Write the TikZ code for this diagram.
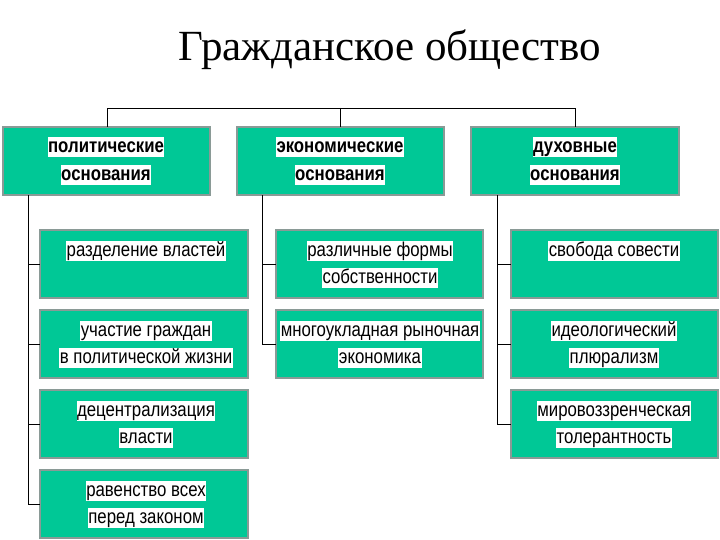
\documentclass[tikz,border=0pt]{standalone}
\usepackage{fontspec}
\setmainfont{Liberation Sans}
\newfontfamily\titlefont{Liberation Serif}
\definecolor{tealbox}{HTML}{00C896}
\definecolor{edge}{HTML}{8A9A96}
\newcommand{\nar}[1]{\scalebox{0.84}[1]{#1}}
\begin{document}
\begin{tikzpicture}[x=1pt,y=-1pt,
  box/.style={draw=edge,line width=1.5pt,fill=tealbox},
  hl/.style={fill=white,inner xsep=0.5pt,inner ysep=0.3pt,text height=14.5pt,text depth=4pt,font=\fontsize{20}{21}\selectfont},
  hlb/.style={hl,font=\fontsize{20}{21}\selectfont\bfseries},
  ln/.style={line width=0.8pt,black}]
\useasboundingbox (0,0) rectangle (720,540);
\node[font=\titlefont\fontsize{43}{45}\selectfont] (title) at (390,50) {Гражданское общество};
% header boxes
\draw[box] (3,127) rectangle (210,195);
\draw[box] (237,127) rectangle (444,195);
\draw[box] (471,127) rectangle (679,195);
\coordinate (t1) at (107,108); \coordinate (t2) at (340,108); \coordinate (t3) at (575,108);
\coordinate (b1) at (107,127); \coordinate (b2) at (340,127); \coordinate (b3) at (575,127);
\draw[ln] (b1)--(t1)--(t3)--(b3) (t2)--(b2);
\node[hlb] (p1) at (106,147) {\nar{политические}};
\node[hlb] (p2) at (106,175) {\nar{основания}};
\node[hlb] (e1) at (340,147) {\nar{экономические}};
\node[hlb] (e2) at (340,175) {\nar{основания}};
\node[hlb] (d1) at (575,147) {\nar{духовные}};
\node[hlb] (d2) at (575,175) {\nar{основания}};
% sub boxes
\foreach \y in {230,310,390,470} \draw[box] (40,\y) rectangle (248,\y+68);
\foreach \y in {230,310} \draw[box] (276,\y) rectangle (483,\y+68);
\foreach \y in {230,310,390} \draw[box] (511,\y) rectangle (718,\y+68);
% connectors
\coordinate (v1) at (28,195); \coordinate (v2) at (262,195); \coordinate (v3) at (497,195);
\draw[ln] (v1)--(28,504) (v2)--(262,344) (v3)--(497,424);
\foreach \y in {264,344,424,504} \draw[ln] (28,\y)--(40,\y);
\foreach \y in {264,344} \draw[ln] (262,\y)--(276,\y);
\foreach \y in {264,344,424} \draw[ln] (497,\y)--(511,\y);
% texts
\node[hl] (a1) at (146,251) {\nar{разделение властей}};
\node[hl] (a2) at (146,331) {\nar{участие граждан}};
\node[hl] (a3) at (146,358) {\nar{в политической жизни}};
\node[hl] (a4) at (146,411) {\nar{децентрализация}};
\node[hl] (a5) at (146,438) {\nar{власти}};
\node[hl] (a6) at (146,491) {\nar{равенство всех}};
\node[hl] (a7) at (146,518) {\nar{перед законом}};
\node[hl] (c1) at (380,251) {\nar{различные формы}};
\node[hl] (c2) at (380,278) {\nar{собственности}};
\node[hl] (c3) at (380,331) {\nar{многоукладная рыночная}};
\node[hl] (c4) at (380,358) {\nar{экономика}};
\node[hl] (s1) at (614,251) {\nar{свобода совести}};
\node[hl] (s2) at (614,331) {\nar{идеологический}};
\node[hl] (s3) at (614,358) {\nar{плюрализм}};
\node[hl] (s4) at (614,411) {\nar{мировоззренческая}};
\node[hl] (s5) at (614,438) {\nar{толерантность}};
\end{tikzpicture}
\end{document}
